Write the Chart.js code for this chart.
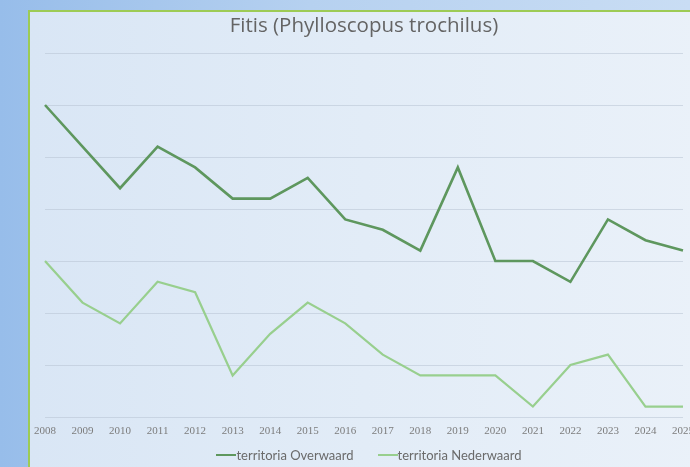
<!DOCTYPE html>
<html>
<head>
<meta charset="utf-8">
<script src="https://cdn.jsdelivr.net/npm/chart.js@4/dist/chart.umd.min.js"></script>
<style>
  html, body { margin: 0; padding: 0; width: 690px; height: 467px; overflow: hidden; }
  body { background: linear-gradient(to right, #97bdea 0%, #b6d1f0 45%, #c9ddf4 100%); position: relative; }
  #panel {
    position: absolute; left: 28px; top: 10px; width: 670px; height: 470px;
    border-left: 2px solid #9dcb55; border-top: 2px solid #9dcb55;
    background: linear-gradient(to right, #d9e6f5 0%, #e2ecf7 50%, #eaf1f9 100%);
  }
  #wrap { position: absolute; left: 0; top: 0; width: 670px; height: 455px; }
  #legend {
    position: absolute; left: 4px; width: 670px; top: 435px;
    display: flex; justify-content: center; gap: 24px;
    font-family: Lato, "Open Sans", sans-serif; font-size: 13px; color: #6a6a6a;
  }
  .item { display: flex; align-items: center; }
  .swatch { display: inline-block; width: 20px; height: 2.5px; margin-right: 0; }
</style>
</head>
<body>
<div id="panel">
  <div id="wrap"><canvas id="chart" width="670" height="455"></canvas></div>
  <div id="legend"></div>
</div>
<script>
// Breeding territories per year
const years = ['2008','2009','2010','2011','2012','2013','2014','2015','2016',
               '2017','2018','2019','2020','2021','2022','2023','2024','2025'];
const overwaard  = [60, 52, 44, 52, 48, 42, 42, 46, 38, 36, 32, 48, 30, 30, 26, 38, 34, 32];
const nederwaard = [30, 22, 18, 26, 24, 8, 16, 22, 18, 12, 8, 8, 8, 2, 10, 12, 2, 2];
const seriesNames = ['territoria Overwaard', 'territoria Nederwaard'];
const seriesColors = ['#5e975e', '#98cf8e'];

const chart = new Chart(document.getElementById('chart'), {
  type: 'line',
  data: {
    labels: years,
    datasets: [
      { label: seriesNames[0], data: overwaard, borderColor: seriesColors[0], backgroundColor: seriesColors[0],
        borderWidth: 2.6, pointRadius: 0, tension: 0 },
      { label: seriesNames[1], data: nederwaard, borderColor: seriesColors[1], backgroundColor: seriesColors[1],
        borderWidth: 2.2, pointRadius: 0, tension: 0 }
    ]
  },
  options: {
    responsive: false,
    animation: false,
    layout: { padding: { left: 15, right: 17, top: 0, bottom: 25 } },
    plugins: {
      legend: { display: false },
      tooltip: { enabled: false },
      title: {
        display: true,
        text: 'Fitis (Phylloscopus trochilus)',
        color: '#646464',
        font: { family: 'Open Sans', size: 20.5, weight: 'normal' },
        padding: { top: 2, bottom: 14.4 }
      }
    },
    scales: {
      x: {
        offset: false,
        grid: { display: false, drawTicks: false },
        border: { display: false },
        ticks: { color: '#7c7c7c', font: { family: 'Liberation Serif', size: 11 },
                 padding: 8, autoSkip: false, maxRotation: 0 },
        afterFit: (s) => { s.height = 25; s.paddingLeft = 0; s.paddingRight = 0; }
      },
      y: {
        min: 0, max: 70,
        grid: { color: 'rgba(180,192,208,0.5)', lineWidth: 1, drawTicks: false },
        border: { display: false },
        ticks: { display: false, stepSize: 10 },
        afterFit: (s) => { s.width = 0; }
      }
    }
  }
});

// Legend built from the datasets
const legend = document.getElementById('legend');
chart.data.datasets.forEach(ds => {
  const item = document.createElement('span');
  item.className = 'item';
  const sw = document.createElement('span');
  sw.className = 'swatch';
  sw.style.background = ds.borderColor;
  item.appendChild(sw);
  item.appendChild(document.createTextNode(ds.label));
  legend.appendChild(item);
});
</script>
</body>
</html>
